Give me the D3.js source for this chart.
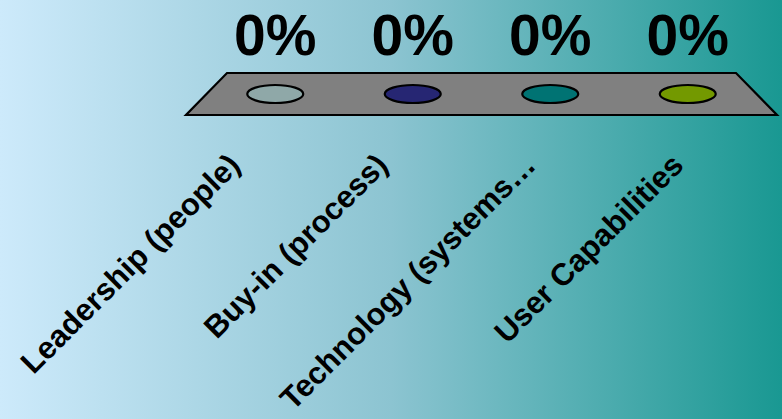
<!DOCTYPE html>
<html>
<head>
<meta charset="utf-8">
<script src="https://cdn.jsdelivr.net/npm/d3@7"></script>
<style>
html,body{margin:0;padding:0;overflow:hidden;}
svg{display:block;}
</style>
</head>
<body>
<svg id="chart" width="782" height="419"></svg>
<script>
const categories = ["Leadership (people)", "Buy-in (process)", "Technology (systems…", "User Capabilities"];
const values = [0, 0, 0, 0];
const valueLabels = ["0%", "0%", "0%", "0%"];
const colors = ["#8fa8a8", "#262673", "#007373", "#739900"];

const W = 782, H = 419;
const svg = d3.select("#chart");

const defs = svg.append("defs");
const grad = defs.append("linearGradient").attr("id", "bg").attr("x1", "0").attr("x2", "1").attr("y1", "0").attr("y2", "0");
grad.append("stop").attr("offset", "0").attr("stop-color", "#cdeafb");
grad.append("stop").attr("offset", "0.5").attr("stop-color", "#8cc4d1");
grad.append("stop").attr("offset", "1").attr("stop-color", "#199892");
svg.append("rect").attr("width", W).attr("height", H).attr("fill", "url(#bg)");

// floor geometry (3D perspective)
const floorBack = {y: 73, x0: 227, x1: 736};
const floorFront = {y: 115, x0: 186, x1: 777};
const midY = (floorBack.y + floorFront.y) / 2;

svg.append("path")
  .attr("d", `M${floorBack.x0},${floorBack.y}L${floorBack.x1},${floorBack.y}L${floorFront.x1},${floorFront.y}L${floorFront.x0},${floorFront.y}Z`)
  .attr("fill", "#808080").attr("stroke", "#000").attr("stroke-width", 2.2).attr("stroke-linejoin", "miter");

// band scale at mid-depth of the floor
const xMid = d3.scaleBand().domain(categories)
  .range([(floorBack.x0 + floorFront.x0) / 2, (floorBack.x1 + floorFront.x1) / 2]);
// band scale on front edge for category labels
const xFront = d3.scaleBand().domain(categories).range([floorFront.x0, floorFront.x1]);
// value scale (bar height)
const y = d3.scaleLinear().domain([0, 1]).range([0, 200]);

// zero-height bars: only their top faces visible
svg.selectAll("ellipse.bar").data(categories).join("ellipse")
  .attr("class", "bar")
  .attr("cx", d => xMid(d) + xMid.bandwidth() / 2)
  .attr("cy", (d, i) => midY - y(values[i]))
  .attr("rx", 28).attr("ry", 9)
  .attr("fill", (d, i) => colors[i])
  .attr("stroke", "#000").attr("stroke-width", 2.2);

// value labels
svg.selectAll("text.val").data(categories).join("text")
  .attr("class", "val")
  .attr("x", d => xMid(d) + xMid.bandwidth() / 2)
  .attr("y", 55)
  .attr("text-anchor", "middle")
  .attr("font-family", "Liberation Sans, Arial, sans-serif")
  .attr("font-weight", "bold")
  .attr("font-size", 57)
  .attr("fill", "#000")
  .text((d, i) => valueLabels[i]);

// category labels rotated -45°
svg.selectAll("text.cat").data(categories).join("text")
  .attr("class", "cat")
  .attr("transform", d => `translate(${xFront(d) + xFront.bandwidth() / 2 - 18},167) rotate(-45)`)
  .attr("text-anchor", "end")
  .attr("font-family", "Liberation Sans, Arial, sans-serif")
  .attr("font-weight", "bold")
  .attr("font-size", 31)
  .attr("fill", "#000")
  .text(d => d);
</script>
</body>
</html>
